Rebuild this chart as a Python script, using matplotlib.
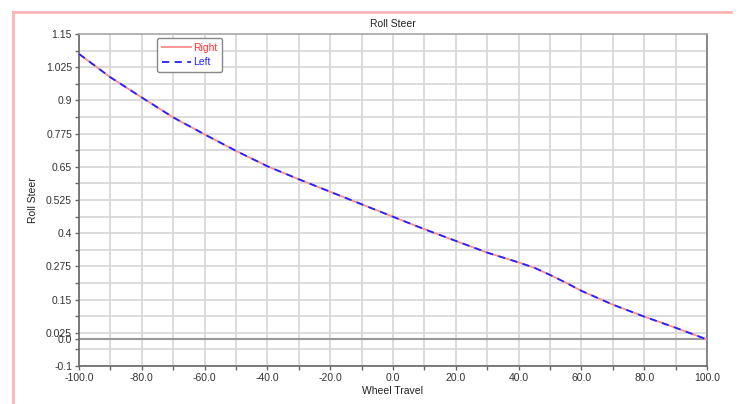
import matplotlib
matplotlib.use("Agg")
import matplotlib.pyplot as plt
from matplotlib.lines import Line2D
from matplotlib.ticker import FixedLocator

plt.rcParams['font.family'] = ['Liberation Sans', 'DejaVu Sans']

wheel_travel = [-100, -90, -80, -70, -60, -50, -40, -30, -20, -10, 0,
                10, 20, 30, 40, 45, 50, 55, 60, 70, 80, 90, 100]
right_vals = [1.075, 0.987, 0.911, 0.836, 0.772, 0.710, 0.652, 0.603, 0.556, 0.509, 0.462,
              0.415, 0.371, 0.327, 0.290, 0.270, 0.243, 0.214, 0.183, 0.131, 0.086, 0.044, 0.0]
left_vals = [1.075, 0.987, 0.911, 0.836, 0.772, 0.710, 0.652, 0.603, 0.556, 0.509, 0.462,
             0.415, 0.371, 0.327, 0.290, 0.270, 0.243, 0.214, 0.183, 0.131, 0.086, 0.044, 0.0]

y_ticks = [1.15, 1.025, 0.9, 0.775, 0.65, 0.525, 0.4, 0.275, 0.15, 0.025, 0.0, -0.1]
y_labels = ["1.15", "1.025", "0.9", "0.775", "0.65", "0.525", "0.4", "0.275", "0.15", "0.025", "0.0", "-0.1"]
y_minor = [1.0875, 0.9625, 0.8375, 0.7125, 0.5875, 0.4625, 0.3375, 0.2125, 0.0875, -0.0375]
x_ticks = [-100, -80, -60, -40, -20, 0, 20, 40, 60, 80, 100]
x_labels = ["-100.0", "-80.0", "-60.0", "-40.0", "-20.0", "0.0", "20.0", "40.0", "60.0", "80.0", "100.0"]
x_minor = [-90, -70, -50, -30, -10, 10, 30, 50, 70, 90]

fig = plt.figure(figsize=(7.42, 4.04), dpi=100)
W, H = 742, 404
ax = fig.add_axes([79 / W, 1 - 366 / H, (707 - 79) / W, (366 - 34) / H])

grid_c = '#d9d9d9'
for v in y_ticks + y_minor:
    if v != 0.0:
        ax.axhline(v, color=grid_c, lw=1.3, zorder=0)
for v in x_ticks + x_minor:
    ax.axvline(v, color=grid_c, lw=1.3, zorder=0)
ax.axhline(0.0, color='#999999', lw=1.5, zorder=1)

ax.plot(wheel_travel, right_vals, color='#ff8c8c', lw=1.3, label='Right', zorder=3)
ax.plot(wheel_travel, left_vals, color='#2222ff', lw=1.3, ls=(0, (4, 3)), label='Left', zorder=4)

ax.set_xlim(-100, 100)
ax.set_ylim(-0.1, 1.15)
ax.yaxis.set_major_locator(FixedLocator(y_ticks))
ax.set_yticklabels(y_labels)
ax.yaxis.set_minor_locator(FixedLocator(y_minor))
ax.xaxis.set_major_locator(FixedLocator(x_ticks))
ax.set_xticklabels(x_labels)
ax.xaxis.set_minor_locator(FixedLocator(x_minor))
ax.tick_params(which='both', direction='out', length=3, width=1, color='#666666',
               labelsize=7.5, labelcolor='#333333', pad=2)

for s in ['left', 'bottom']:
    ax.spines[s].set_color('#666666')
    ax.spines[s].set_linewidth(1.2)
for s in ['top', 'right']:
    ax.spines[s].set_color('#777777')
    ax.spines[s].set_linewidth(1.2)
ax.spines['top'].set_color('#aaaaaa')

ax.set_title('Roll Steer', fontsize=7.5, color='#222222', pad=5)
ax.set_xlabel('Wheel Travel', fontsize=7.5, color='#222222', labelpad=2)
ax.set_ylabel('Roll Steer', fontsize=7.5, color='#222222', labelpad=6)

leg = ax.legend(loc='upper left', bbox_to_anchor=((157 - 79) / 628, (366 - 38) / 332),
                fontsize=7.5, frameon=True, fancybox=True, handlelength=2.8,
                handletextpad=0.2, borderpad=0.45, labelspacing=0.45, borderaxespad=0)
leg.get_frame().set_edgecolor('#888888')
leg.get_frame().set_linewidth(1.0)
leg.get_frame().set_alpha(1)
texts = leg.get_texts()
texts[0].set_color('#ff3333')
texts[1].set_color('#2222ff')

pink = '#ffb4b4'
fig.add_artist(Line2D([13 / W, 13 / W], [0, 1 - 12 / H], color=pink, lw=2, transform=fig.transFigure))
fig.add_artist(Line2D([13 / W, 731 / W], [1 - 12 / H, 1 - 12 / H], color=pink, lw=2, transform=fig.transFigure))

fig.savefig('out.png', dpi=100)
